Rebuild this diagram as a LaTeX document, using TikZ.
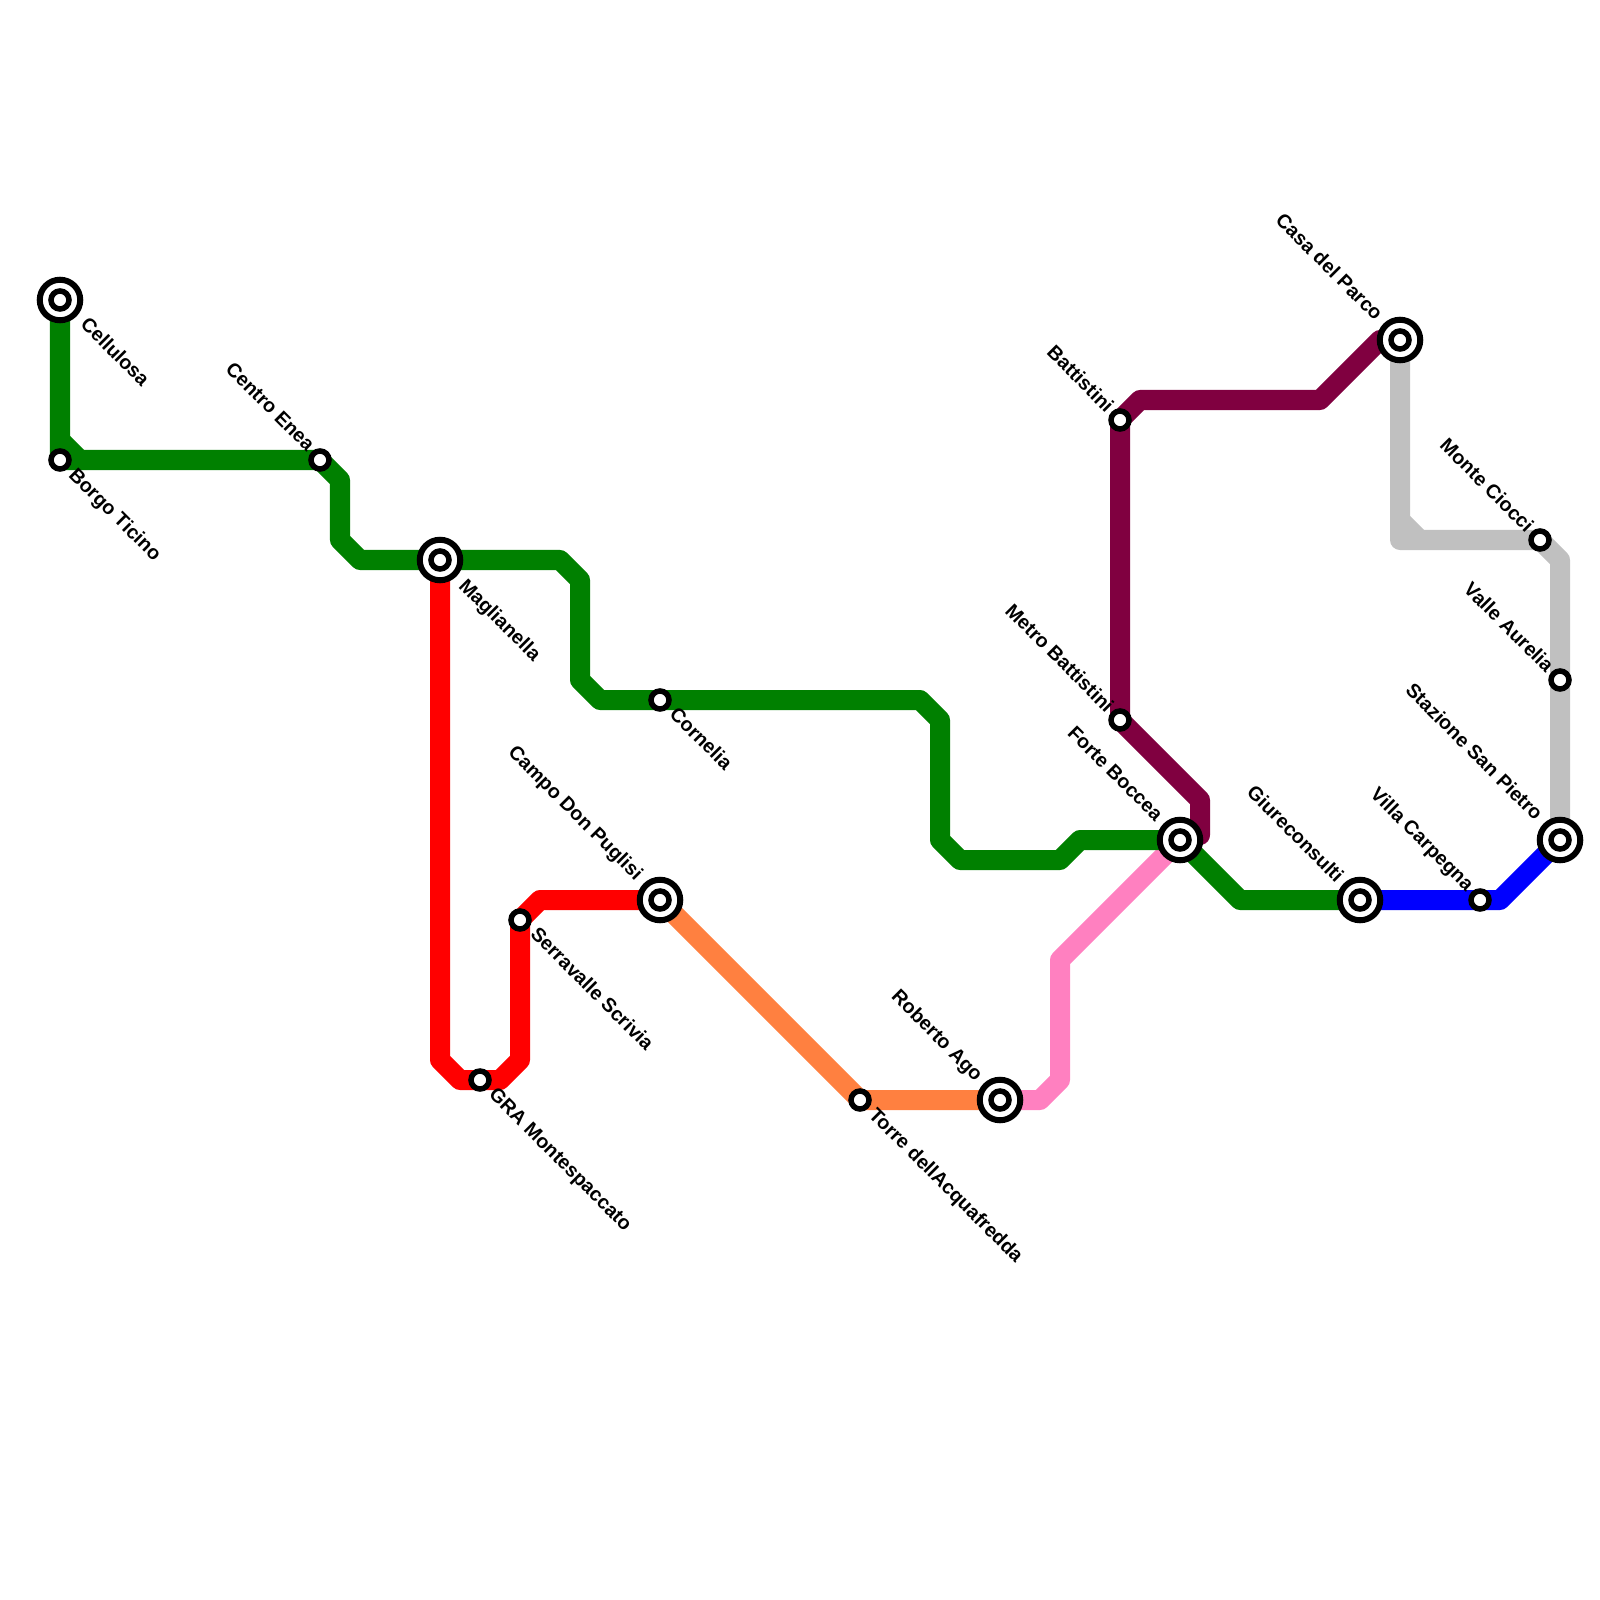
\documentclass[tikz,border=0pt]{standalone}
\usepackage{fontspec}
\setmainfont{Liberation Sans}
\usetikzlibrary{backgrounds}

\definecolor{greenline}{HTML}{008000}
\definecolor{purpleline}{HTML}{800040}
\definecolor{orangeline}{HTML}{FF8040}
\definecolor{pinkline}{HTML}{FF80C0}
\definecolor{greyline}{HTML}{C0C0C0}

\tikzset{
  stop/.style={circle, draw=black, fill=white, line width=0.055cm, minimum size=0.18cm, inner sep=0pt, outer sep=0pt},
  hub/.style={circle, draw=black, fill=white, line width=0.06cm, minimum size=0.405cm, inner sep=0pt, outer sep=0pt},
  metroline/.style={line width=0.2cm, line join=round},
  namese/.style={font=\fontsize{5.6}{6}\selectfont\bfseries, rotate=-45, anchor=west, inner sep=0pt},
  namenw/.style={font=\fontsize{5.6}{6}\selectfont\bfseries, rotate=-45, anchor=east, inner sep=0pt},
}

\begin{document}
\begin{tikzpicture}[x=0.01cm, y=-0.01cm]
  \useasboundingbox (0,0) rectangle (1600,1600);

  % Interchanges
  \foreach \name/\px/\py in {cellulosa/60/300, maglianella/440/560, puglisi/660/900,
      ago/1000/1100, boccea/1180/840, giureconsulti/1360/900, parco/1400/340, pietro/1560/840} {
    \node[hub] (\name) at (\px,\py) {};
    \node[stop] (\name in) at (\px,\py) {};
  }

  % Plain stops
  \foreach \name/\px/\py in {borgo/60/460, enea/320/460, cornelia/660/700, serravalle/520/920,
      gra/480/1080, torre/860/1100, metro/1120/720, battistini/1120/420,
      ciocci/1540/540, aurelia/1560/680, carpegna/1480/900} {
    \node[stop] (\name) at (\px,\py) {};
  }

  % Lines
  \begin{scope}[on background layer]
    \draw[metroline, purpleline] (metro.center) -- (battistini.center) -- (1140,400) -- (1320,400) -- (1380,340) -- (parco.center);
    \draw[metroline, purpleline] (metro.center) -- (1200,800) -- (1200,835) -- (boccea.center);
    \draw[metroline, red] (maglianella.center) -- (440,1060) -- (460,1080) -- (gra.center) -- (500,1080) -- (520,1060) -- (serravalle.center) -- (540,900) -- (puglisi.center);
    \draw[metroline, orangeline] (puglisi.center) -- (torre.center) -- (ago.center);
    \draw[metroline, pinkline] (ago.center) -- (1040,1100) -- (1060,1080) -- (1060,960) -- (boccea.center);
    \draw[metroline, blue] (giureconsulti.center) -- (carpegna.center) -- (1500,900) -- (pietro.center);
    \draw[metroline, greyline] (parco.center) -- (1400,540) -- (1540,540) -- (1560,560) -- (aurelia.center) -- (pietro.center);
    \draw[metroline, greyline] (1400,520) -- (1420,540);
    \draw[metroline, greenline] (cellulosa.center) -- (borgo.center) -- (enea.center) -- (340,480) -- (340,540) -- (360,560) -- (maglianella.center) -- (560,560) -- (580,580) -- (580,680) -- (600,700) -- (cornelia.center) -- (920,700) -- (940,720) -- (940,840) -- (960,860) -- (1060,860) -- (1080,840) -- (boccea.center) -- (1240,900) -- (giureconsulti.center);
    \draw[metroline, greenline] (60,440) -- (80,460);
  \end{scope}

  % Names
  \node[namese] (cellulosa name) at (84,320) {Cellulosa};
  \node[namese] (borgo name) at (71,472) {Borgo Ticino};
  \node[namese] (maglianella name) at (461,583) {Maglianella};
  \node[namese] (cornelia name) at (673,710) {Cornelia};
  \node[namese] (serravalle name) at (534,930) {Serravalle Scrivia};
  \node[namese] (gra name) at (491,1092) {GRA Montespaccato};
  \node[namese] (torre name) at (871,1112) {Torre dellAcquafredda};
  \node[namenw] (enea name) at (312,448) {Centro Enea};
  \node[namenw] (puglisi name) at (639,878) {Campo Don Puglisi};
  \node[namenw] (ago name) at (979,1079) {Roberto Ago};
  \node[namenw] (boccea name) at (1160,818) {Forte Boccea};
  \node[namenw] (metro name) at (1111,709) {Metro Battistini};
  \node[namenw] (battistini name) at (1111,409) {Battistini};
  \node[namenw] (giureconsulti name) at (1341,879) {Giureconsulti};
  \node[namenw] (parco name) at (1380,317) {Casa del Parco};
  \node[namenw] (ciocci name) at (1531,529) {Monte Ciocci};
  \node[namenw] (aurelia name) at (1551,669) {Valle Aurelia};
  \node[namenw] (carpegna name) at (1470,889) {Villa Carpegna};
  \node[namenw] (pietro name) at (1540,817) {Stazione San Pietro};
\end{tikzpicture}
\end{document}
